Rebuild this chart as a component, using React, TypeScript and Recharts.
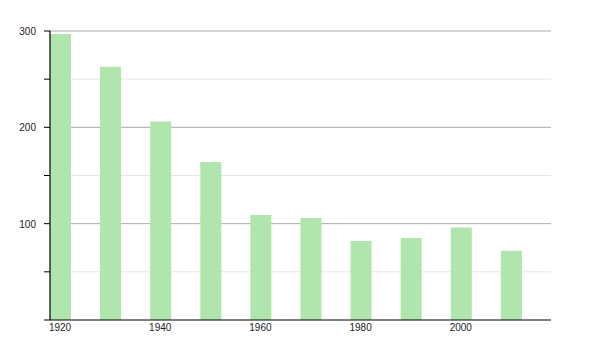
import React from "react";
import { BarChart, Bar, XAxis, YAxis, CartesianGrid } from "recharts";

const years = [1920, 1930, 1940, 1950, 1960, 1970, 1980, 1990, 2000, 2010];
const values = [297, 263, 206, 164, 109, 106, 82, 85, 96, 72];
const xTicks = [1920, 1940, 1960, 1980, 2000];
const yTicks = [0, 50, 100, 150, 200, 250, 300];
const yLabelled = [100, 200, 300];
const majorLines = [100, 200, 300];
const minorLines = [50, 150, 250];

const data = years.map((y, i) => ({ year: y, value: values[i] }));

const FONT = "'Liberation Sans', Arial, sans-serif";

const YTick = (props: any) => {
  const { x, y, payload } = props;
  if (!yLabelled.includes(payload.value)) return null;
  return (
    <text x={x} y={y} dy={4} textAnchor="end" fontSize={10} fontFamily={FONT} fill="#222">
      {payload.value}
    </text>
  );
};

export default function App() {
  return (
    <BarChart
      width={600}
      height={350}
      data={data}
      margin={{ top: 23, right: 57, left: 0, bottom: 18 }}
    >
      <CartesianGrid vertical={false} horizontalValues={minorLines} stroke="#e6e6e6" strokeWidth={1} />
      <CartesianGrid vertical={false} horizontalValues={majorLines} stroke="#aaaaaa" strokeWidth={1} />
      <XAxis
        dataKey="year"
        type="number"
        domain={[1918, 2018]}
        ticks={xTicks}
        tickLine={false}
        axisLine={{ stroke: "#000", strokeWidth: 1.2 }}
        tick={{ fontSize: 10, fontFamily: FONT, fill: "#222" }}
        tickSize={4}
        tickMargin={0}
        height={20}
        allowDataOverflow
      />
      <YAxis
        domain={[0, 300]}
        ticks={yTicks}
        width={42}
        tickSize={6}
        tickMargin={8}
        tickLine={{ stroke: "#000" }}
        axisLine={{ stroke: "#000", strokeWidth: 1.2 }}
        tick={<YTick />}
        interval={0}
      />
      <Bar dataKey="value" fill="#b1e5ae" barSize={21} isAnimationActive={false} />
    </BarChart>
  );
}
